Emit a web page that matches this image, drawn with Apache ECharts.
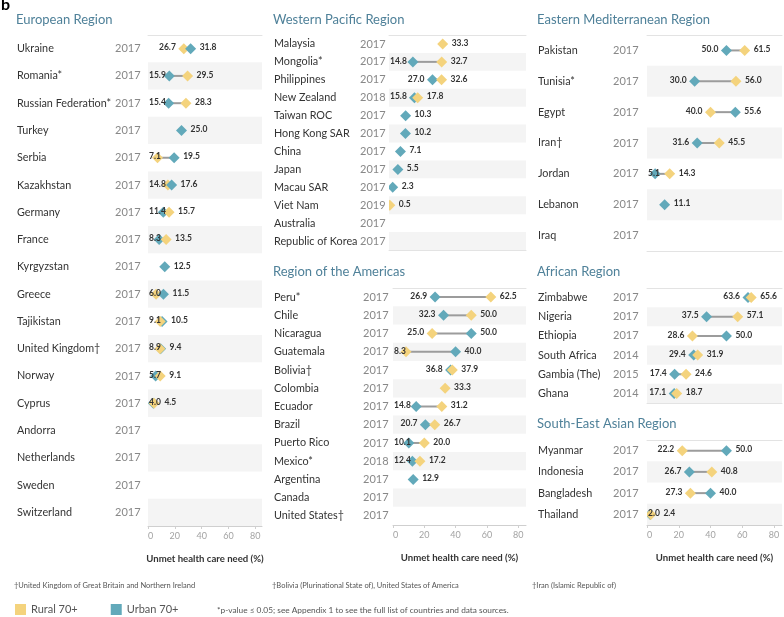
<!DOCTYPE html>
<html><head><meta charset="utf-8">
<script src="https://cdn.jsdelivr.net/npm/echarts@6/dist/echarts.min.js"></script>
<style>html,body{margin:0;padding:0;background:#fff}#c{width:784px;height:617px}</style>
</head><body><div id="c"></div>
<script>
// ---------------- DATA ----------------
const eurCountries = ['Ukraine','Romania*','Russian Federation*','Turkey','Serbia','Kazakhstan','Germany','France','Kyrgyzstan','Greece','Tajikistan','United Kingdom†','Norway','Cyprus','Andorra','Netherlands','Sweden','Switzerland'];
const eurYears = [2017,2017,2017,2017,2017,2017,2017,2017,2017,2017,2017,2017,2017,2017,2017,2017,2017,2017];
const eurRural = [26.7,29.5,28.3,null,7.1,14.8,15.7,13.5,null,6.0,9.1,8.9,9.1,4.5,null,null,null,null];
const eurUrban = [31.8,15.9,15.4,25.0,19.5,17.6,11.4,8.3,12.5,11.5,10.5,9.4,5.7,4.0,null,null,null,null];

const wpCountries = ['Malaysia','Mongolia*','Philippines','New Zealand','Taiwan ROC','Hong Kong SAR','China','Japan','Macau SAR','Viet Nam','Australia','Republic of Korea'];
const wpYears = [2017,2017,2017,2018,2017,2017,2017,2017,2017,2019,2017,2017];
const wpRural = [33.3,32.7,32.6,17.8,null,null,null,null,null,0.5,null,null];
const wpUrban = [null,14.8,27.0,15.8,10.3,10.2,7.1,5.5,2.3,null,null,null];

const amCountries = ['Peru*','Chile','Nicaragua','Guatemala','Bolivia†','Colombia','Ecuador','Brazil','Puerto Rico','Mexico*','Argentina','Canada','United States†'];
const amYears = [2017,2017,2017,2017,2017,2017,2017,2017,2017,2018,2017,2017,2017];
const amRural = [62.5,50.0,25.0,8.3,37.9,33.3,31.2,26.7,20.0,17.2,null,null,null];
const amUrban = [26.9,32.3,50.0,40.0,36.8,null,14.8,20.7,10.1,12.4,12.9,null,null];

const emCountries = ['Pakistan','Tunisia*','Egypt','Iran†','Jordan','Lebanon','Iraq'];
const emYears = [2017,2017,2017,2017,2017,2017,2017];
const emRural = [61.5,56.0,40.0,45.5,14.3,null,null];
const emUrban = [50.0,30.0,55.6,31.6,5.1,11.1,null];

const afCountries = ['Zimbabwe','Nigeria','Ethiopia','South Africa','Gambia (The)','Ghana'];
const afYears = [2017,2017,2017,2014,2015,2014];
const afRural = [65.6,57.1,28.6,31.9,24.6,18.7];
const afUrban = [63.6,37.5,50.0,29.4,17.4,17.1];

const seCountries = ['Myanmar','Indonesia','Bangladesh','Thailand'];
const seYears = [2017,2017,2017,2017];
const seRural = [22.2,40.8,27.3,2.4];
const seUrban = [50.0,26.7,40.0,2.0];

const xTicks = [0,20,40,60,80];
const axisTitle = 'Unmet health care need (%)';

// ---------------- LAYOUT ----------------
const FONT = 'Lato';
const RURAL = '#F4D37D', URBAN = '#62A9BA';
const regions = [
  {title:'European Region', c:eurCountries, y:eurYears, r:eurRural, u:eurUrban,
   grid:{left:148,top:35,width:114,height:491}, t:[16,13], cw:98, mg:11, axis:true},
  {title:'Western Pacific Region', c:wpCountries, y:wpYears, r:wpRural, u:wpUrban,
   grid:{left:389,top:35,width:137,height:215}, t:[273,13], cw:86, mg:7, axis:false},
  {title:'Region of the Americas', c:amCountries, y:amYears, r:amRural, u:amUrban,
   grid:{left:393,top:288,width:133,height:237}, t:[273,265], cw:89, mg:8, axis:true},
  {title:'Eastern Mediterranean Region', c:emCountries, y:emYears, r:emRural, u:emUrban,
   grid:{left:647,top:35,width:135,height:216}, t:[537,13], cw:75, mg:12, axis:false},
  {title:'African Region', c:afCountries, y:afYears, r:afRural, u:afUrban,
   grid:{left:647,top:288,width:135,height:115}, t:[537,265], cw:75, mg:12, axis:false},
  {title:'South-East Asian Region', c:seCountries, y:seYears, r:seRural, u:seUrban,
   grid:{left:647,top:440,width:135,height:85}, t:[537,417], cw:75, mg:12, axis:true}
];

const mctx = document.createElement('canvas').getContext('2d');
const LABEL_FONT = 'bold 8.5px ' + FONT;
function tw(t){ mctx.font = LABEL_FONT; return mctx.measureText(t).width; }

const option = {
  animation:false,
  textStyle:{fontFamily:FONT},
  title:[{text:'b', left:1, top:-3, padding:0, textStyle:{fontSize:16, fontWeight:'bold', color:'#000', fontFamily:FONT}}],
  legend:{left:15, top:604, padding:0, itemWidth:11, itemHeight:11, itemGap:33, icon:'rect', selectedMode:false,
    data:['Rural 70+','Urban 70+'], textStyle:{fontSize:11, color:'#555', fontFamily:FONT}},
  grid:[], xAxis:[], yAxis:[], series:[],
  graphic:[
    {type:'text', left:14, top:582, style:{text:'†United Kingdom of Great Britain and Northern Ireland', font:'7.5px '+FONT, fill:'#555'}},
    {type:'text', left:272, top:582, style:{text:'†Bolivia (Plurinational State of), United States of America', font:'7.5px '+FONT, fill:'#555'}},
    {type:'text', left:532, top:582, style:{text:'†Iran (Islamic Republic of)', font:'7.5px '+FONT, fill:'#555'}},
    {type:'text', left:217, top:606, style:{text:'*p-value ≤ 0.05; see Appendix 1 to see the full list of countries and data sources.', font:'8.3px '+FONT, fill:'#555'}}
  ]
};

function diamondItem(color){
  return (p, api) => {
    const c = api.coord([api.value(0), api.value(1)]);
    const w = 5.5, h = 5.5;
    return {type:'polygon', shape:{points:[[c[0],c[1]-h],[c[0]+w,c[1]],[c[0],c[1]+h],[c[0]-w,c[1]]]},
      style:{fill:color}};
  };
}

regions.forEach((R, gi) => {
  option.grid.push(Object.assign({containLabel:false}, R.grid));
  option.title.push({text:R.title, left:R.t[0], top:R.t[1], padding:0,
    textStyle:{fontSize:13, fontWeight:'normal', color:'#4f8199', fontFamily:FONT}});
  const xb = option.xAxis.length;
  option.xAxis.push({gridIndex:gi, type:'value', min:0, max:85, position:'bottom',
    axisLine:{show:true, lineStyle:{color: R.axis ? '#cfcfcf' : '#e3e3e3', width:1}},
    axisTick:{show:R.axis, length:3, customValues:xTicks, lineStyle:{color:'#cfcfcf'}},
    axisLabel:{show:R.axis, customValues:xTicks, color:'#a3a3a3', fontSize:9, margin:6, fontFamily:FONT, alignMinLabel:'left'},
    splitLine:{show:false},
    name: R.axis ? axisTitle : '', nameLocation:'middle', nameGap:28,
    nameTextStyle:{fontSize:9.6, fontWeight:'bold', color:'#333', fontFamily:FONT}});
  option.xAxis.push({gridIndex:gi, type:'value', min:0, max:85, position:'top',
    axisLine:{show:true, lineStyle:{color:'#e3e3e3'}}, axisTick:{show:false}, axisLabel:{show:false}, splitLine:{show:false}});
  option.yAxis.push({gridIndex:gi, type:'category', inverse:true, data:R.c,
    axisLine:{show:false}, axisTick:{show:false}, splitLine:{show:false},
    splitArea:{show:true, areaStyle:{color:['rgba(255,255,255,0)','#f4f4f4']}},
    axisLabel:{margin:R.mg, formatter:(v,i)=>'{c|'+v+'}{y|'+R.y[i]+'}',
      rich:{c:{width:R.cw, align:'left', fontSize:10.8, color:'#333', fontFamily:FONT},
            y:{width:22, align:'left', fontSize:11, color:'#888', fontFamily:FONT}}}});

  const conn = [], rur = [], urbLow = [], urbTop = [], labs = [];
  R.c.forEach((name, i) => {
    const r = R.r[i], u = R.u[i];
    if (r != null) rur.push([r, i]);
    if (u != null) {
      if (r != null && u > r + 2) urbTop.push([u, i]); else urbLow.push([u, i]);
    }
    if (r != null && u != null) {
      conn.push([Math.min(r,u), i, Math.max(r,u)]);
      labs.push([Math.min(r,u), i, Math.max(r,u), 2]);
    } else if (r != null || u != null) {
      const v = r != null ? r : u;
      labs.push([v, i, v, 1]);
    }
  });
  const common = {xAxisIndex:xb, yAxisIndex:gi};
  option.series.push(Object.assign({type:'custom', name:'conn', z:2, data:conn, encode:{x:[0,2], y:1},
    renderItem:(p, api) => {
      const a = api.coord([api.value(0), api.value(1)]);
      const b = api.coord([api.value(2), api.value(1)]);
      return {type:'line', shape:{x1:a[0], y1:a[1], x2:b[0], y2:b[1]}, style:{stroke:'#9c9c9c', lineWidth:2}};
    }}, common));
  const sym = {type:'custom', clip:true, encode:{x:0, y:1}, emphasis:{disabled:true}};
  option.series.push(Object.assign({}, sym, common, {name:'Urban 70+', z:3, data:urbLow, itemStyle:{color:URBAN}, renderItem:diamondItem(URBAN)}));
  option.series.push(Object.assign({}, sym, common, {name:'Rural 70+', z:4, data:rur, itemStyle:{color:RURAL}, renderItem:diamondItem(RURAL)}));
  option.series.push(Object.assign({}, sym, common, {name:'Urban 70+', z:5, data:urbTop, itemStyle:{color:URBAN}, renderItem:diamondItem(URBAN)}));
  option.series.push(Object.assign({type:'custom', name:'labels', z:6, data:labs, encode:{x:[0,2], y:1},
    renderItem:(p, api) => {
      const lo = api.value(0), row = api.value(1), hi = api.value(2), n = api.value(3);
      const pl = api.coord([lo, row]), ph = api.coord([hi, row]);
      const left = p.coordSys.x;
      const st = {fill:'#333', font:LABEL_FONT, verticalAlign:'middle', align:'left'};
      const ch = [];
      let minRight = ph[0] + 9;
      if (n === 2) {
        const t = lo.toFixed(1);
        const w = tw(t);
        let x = pl[0] - 8 - w;
        if (x < left + 1) x = left + 1;
        ch.push({type:'text', style:Object.assign({}, st, {text:t, x:x, y:pl[1]-1})});
        minRight = Math.max(minRight, x + w + 3.5);
      }
      ch.push({type:'text', style:Object.assign({}, st, {text:hi.toFixed(1), x:minRight, y:ph[1]-1})});
      return {type:'group', children:ch};
    }}, common));
});

const chart = echarts.init(document.getElementById('c'), null, {renderer:'canvas'});
chart.setOption(option);
</script></body></html>
